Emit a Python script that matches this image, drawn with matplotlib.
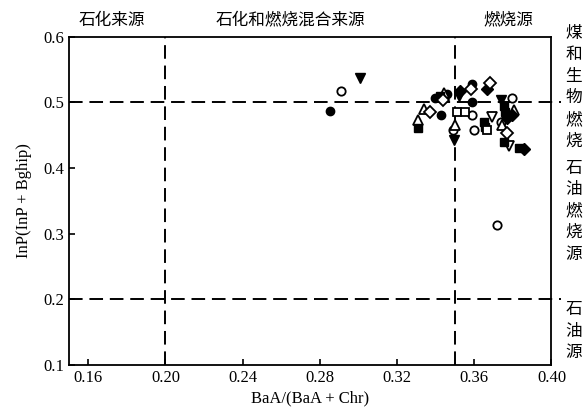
import matplotlib.pyplot as plt

plt.rcParams['font.family'] = ['Liberation Serif', 'Noto Sans CJK SC']

# points, grouped by marker
filled_circle_x = [0.285, 0.3588, 0.359, 0.3457, 0.3426, 0.3397]
filled_circle_y = [0.487, 0.528, 0.500, 0.513, 0.481, 0.507]
open_circle_x = [0.2907, 0.359, 0.349, 0.3597, 0.3737, 0.3798, 0.372]
open_circle_y = [0.518, 0.481, 0.458, 0.458, 0.471, 0.507, 0.313]
filled_tri_down_x = [0.301, 0.3496, 0.3737, 0.352]
filled_tri_down_y = [0.5375, 0.443, 0.504, 0.510]
open_tri_up_x = [0.331, 0.350, 0.3745, 0.3807, 0.334, 0.3445]
open_tri_up_y = [0.473, 0.466, 0.466, 0.489, 0.490, 0.515]
open_tri_down_x = [0.369, 0.378]
open_tri_down_y = [0.478, 0.433]
filled_square_x = [0.331, 0.342, 0.3655, 0.3754, 0.3754, 0.383, 0.376, 0.365]
filled_square_y = [0.461, 0.510, 0.463, 0.494, 0.440, 0.430, 0.486, 0.471]
open_square_x = [0.351, 0.355, 0.3667]
open_square_y = [0.486, 0.485, 0.458]
filled_diamond_x = [0.3667, 0.3524, 0.3855, 0.3798, 0.377]
filled_diamond_y = [0.520, 0.517, 0.429, 0.481, 0.476]
open_diamond_x = [0.368, 0.3437, 0.337, 0.377, 0.3585]
open_diamond_y = [0.529, 0.504, 0.486, 0.453, 0.521]

x_ticks = [0.16, 0.20, 0.24, 0.28, 0.32, 0.36, 0.40]
y_ticks = [0.1, 0.2, 0.3, 0.4, 0.5, 0.6]

fig = plt.figure(figsize=(5.87, 4.19), dpi=100)
ax = fig.add_axes([0.1175, 0.129, 0.822, 0.783])

ms = 6
ax.plot(filled_circle_x, filled_circle_y, 'o', color='black', ms=ms)
ax.plot(open_circle_x, open_circle_y, 'o', mfc='white', mec='black', mew=1.3, ms=ms)
ax.plot(filled_tri_down_x, filled_tri_down_y, 'v', color='black', ms=ms + 1)
ax.plot(open_tri_up_x, open_tri_up_y, '^', mfc='white', mec='black', mew=1.3, ms=ms + 1)
ax.plot(open_tri_down_x, open_tri_down_y, 'v', mfc='white', mec='black', mew=1.3, ms=ms + 1)
ax.plot(filled_square_x, filled_square_y, 's', color='black', ms=ms)
ax.plot(open_square_x, open_square_y, 's', mfc='white', mec='black', mew=1.3, ms=ms)
ax.plot(filled_diamond_x, filled_diamond_y, 'D', color='black', ms=ms)
ax.plot(open_diamond_x, open_diamond_y, 'D', mfc='white', mec='black', mew=1.3, ms=ms)

dash = (0, (7, 3.5))
for xv in [0.20, 0.35]:
    ax.axvline(xv, color='black', lw=1.4, linestyle=dash, zorder=0)
for yv in [0.2, 0.5]:
    ax.axhline(yv, xmax=1.02, color='black', lw=1.4, linestyle=dash, zorder=0, clip_on=False)

ax.set_xlim(0.15, 0.40)
ax.set_ylim(0.1, 0.6)
ax.set_xticks(x_ticks)
ax.set_xticklabels(['%.2f' % v for v in x_ticks])
ax.set_yticks(y_ticks)
ax.set_yticklabels(['%.1f' % v for v in y_ticks])
ax.tick_params(direction='in', length=4, width=1.2, labelsize=12)
for s in ax.spines.values():
    s.set_linewidth(1.3)

ax.set_xlabel('BaA/(BaA + Chr)', fontsize=12, labelpad=3)
ax.set_ylabel('InP(InP + Bghip)', fontsize=12, labelpad=8)

cjk = ['Noto Sans CJK SC', 'DejaVu Sans']
fig.text(0.191, 0.952, '石化来源', family=cjk, fontsize=12, ha='center', va='center')
fig.text(0.494, 0.952, '石化和燃烧混合来源', family=cjk, fontsize=12, ha='center', va='center')
fig.text(0.866, 0.952, '燃烧源', family=cjk, fontsize=12, ha='center', va='center')

fig.text(0.977, 0.792, '\n'.join('煤和生物燃烧'), family=cjk, fontsize=12,
         ha='center', va='center', linespacing=1.35)
fig.text(0.977, 0.496, '\n'.join('石油燃烧源'), family=cjk, fontsize=12,
         ha='center', va='center', linespacing=1.35)
fig.text(0.977, 0.21, '\n'.join('石油源'), family=cjk, fontsize=12,
         ha='center', va='center', linespacing=1.35)

fig.savefig('out.png', dpi=100)
